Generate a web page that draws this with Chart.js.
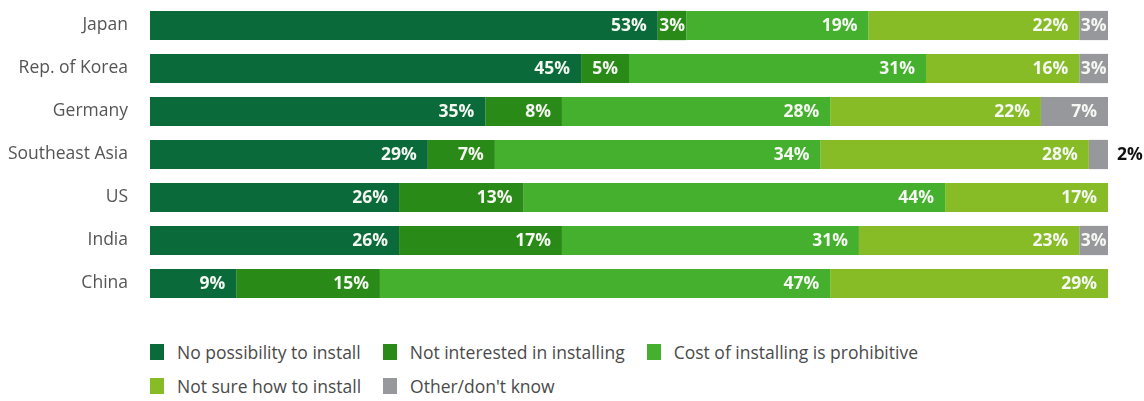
<!DOCTYPE html>
<html>
<head>
<meta charset="utf-8">
<script src="https://cdn.jsdelivr.net/npm/chart.js@4/dist/chart.umd.min.js"></script>
<style>
    body { margin: 0; background: #fff; font-family: "Open Sans", sans-serif; }
    #wrap { position: relative; width: 1144px; height: 401px; }
    #barChart { position: absolute; left: 0; top: 0; }
    #legend { position: absolute; left: 150px; top: 341px; color: #4a4a4a; font-size: 17.5px; }
    .row { display: flex; height: 22px; margin-bottom: 12px; align-items: center; }
    .item { display: flex; align-items: center; margin-right: 22px; }
    .swatch { width: 14px; height: 16px; margin-right: 13px; }
</style>
</head>
<body>
<div id="wrap">
    <canvas id="barChart" width="1144" height="310"></canvas>
    <div id="legend"></div>
</div>
<script>
const categories = ['Japan', 'Rep. of Korea', 'Germany', 'Southeast Asia', 'US', 'India', 'China'];
const noPossibility = [53, 45, 35, 29, 26, 26, 9];
const notInterested = [3, 5, 8, 7, 13, 17, 15];
const costProhibitive = [19, 31, 28, 34, 44, 31, 47];
const notSure = [22, 16, 22, 28, 17, 23, 29];
const otherDontKnow = [3, 3, 7, 2, 0, 3, 0];

const seriesNames = ['No possibility to install', 'Not interested in installing', 'Cost of installing is prohibitive', 'Not sure how to install', 'Other/don\'t know'];
const seriesColors = ['#0b6a3a', '#2a8a17', '#45b02e', '#87bc26', '#97989c'];
const seriesValues = [noPossibility, notInterested, costProhibitive, notSure, otherDontKnow];

// percent labels inside each segment, right aligned; too narrow -> outside in black
const segmentLabels = {
    id: 'segmentLabels',
    afterDatasetsDraw(chart) {
        const ctx = chart.ctx;
        ctx.save();
        ctx.font = 'bold 17.5px "Open Sans"';
        ctx.textBaseline = 'middle';
        chart.data.datasets.forEach((ds, di) => {
            const meta = chart.getDatasetMeta(di);
            meta.data.forEach((bar, i) => {
                const v = ds.data[i];
                if (!v) return;
                const p = bar.getProps(['x', 'y', 'base'], true);
                const w = p.x - p.base;
                const txt = v + '%';
                const tw = ctx.measureText(txt).width;
                if (tw > w) {
                    ctx.fillStyle = '#111';
                    ctx.textAlign = 'left';
                    ctx.fillText(txt, p.x + 9, p.y + 1);
                    return;
                }
                const pad = Math.min(11, Math.max(0.5, (w - tw) / 2));
                ctx.fillStyle = '#f4f7f2';
                ctx.textAlign = 'right';
                ctx.fillText(txt, p.x - pad, p.y + 1);
            });
        });
        ctx.restore();
    }
};

const chart = new Chart(document.getElementById('barChart'), {
    type: 'bar',
    data: {
        labels: categories,
        datasets: seriesNames.map((name, i) => ({
            label: name,
            data: seriesValues[i],
            backgroundColor: seriesColors[i],
            borderWidth: 0,
            barPercentage: 0.68,
            categoryPercentage: 1
        }))
    },
    options: {
        indexAxis: 'y',
        responsive: false,
        animation: false,
        layout: { padding: { top: 4, bottom: 5, right: 36, left: 0 } },
        plugins: {
            legend: { display: false },
            tooltip: { enabled: false }
        },
        scales: {
            x: { stacked: true, min: 0, max: 100, display: false },
            y: {
                stacked: true,
                grid: { display: false, drawTicks: false },
                border: { display: false },
                afterFit: scale => {
                    // fixed label column, no extra room above/below the rows
                    scale.width = 150;
                    scale.paddingTop = 0;
                    scale.paddingBottom = 0;
                },
                ticks: {
                    padding: 22,
                    color: '#555',
                    font: { family: 'Open Sans', size: 17.5 }
                }
            }
        }
    },
    plugins: [segmentLabels]
});

// two-row legend under the bars
const legendEl = document.getElementById('legend');
[[0, 1, 2], [3, 4]].forEach(row => {
    const r = document.createElement('div');
    r.className = 'row';
    row.forEach(i => {
        r.innerHTML += `<div class="item"><span class="swatch" style="background:${seriesColors[i]}"></span>${seriesNames[i]}</div>`;
    });
    legendEl.appendChild(r);
});
</script>
</body>
</html>
